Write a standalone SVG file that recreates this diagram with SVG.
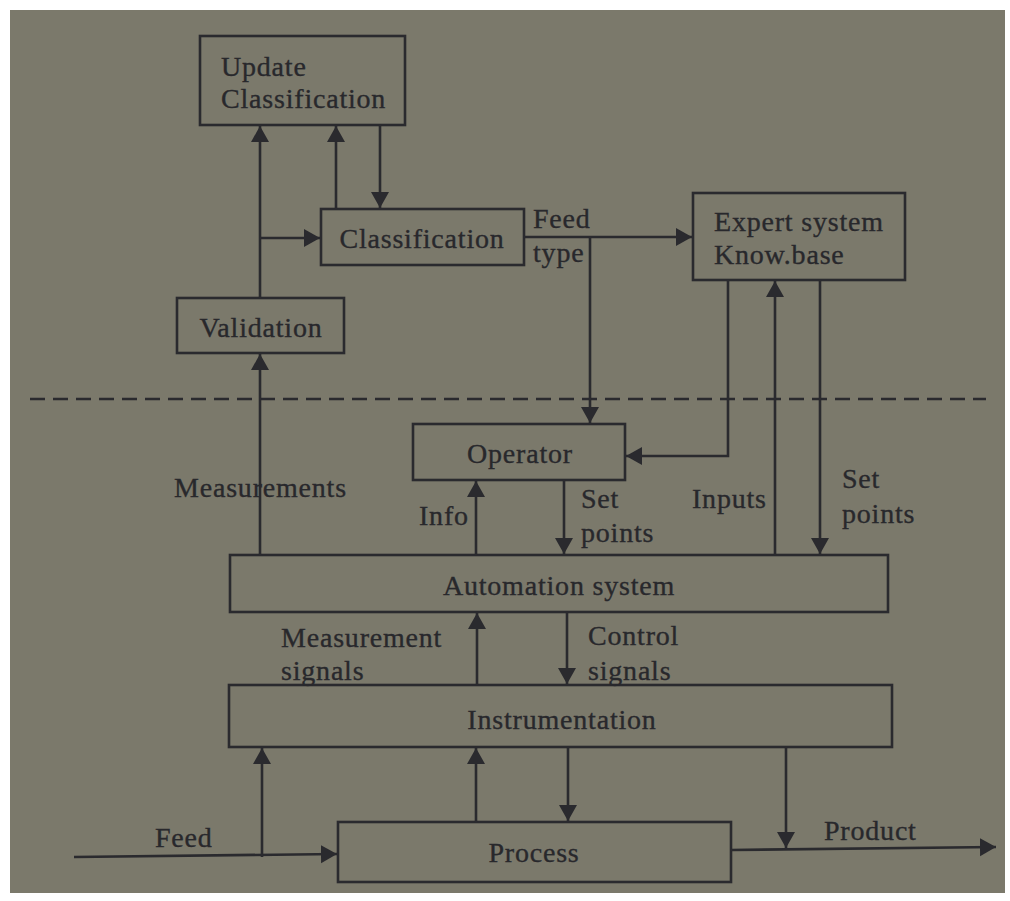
<svg xmlns="http://www.w3.org/2000/svg" width="1010" height="901" viewBox="0 0 1010 901">
<style>
.box{fill:none;stroke:#2a2a2e;stroke-width:2.6}
.ln{fill:none;stroke:#2a2a2e;stroke-width:2.6}
.t{font-family:"Liberation Serif","Times New Roman",serif;font-size:28px;fill:#28282c;stroke:#28282c;stroke-width:0.35;letter-spacing:0.8px}
.c{text-anchor:middle}
</style>
<defs>
<marker id="ah" markerUnits="userSpaceOnUse" markerWidth="18" markerHeight="20" refX="16" refY="9" orient="auto">
<path d="M0,0 L16,9 L0,18 Z" fill="#2a2a2e"/>
</marker>
</defs>
<rect width="1010" height="901" fill="#ffffff"/>
<rect x="10" y="10" width="995" height="883" fill="#7b796b"/>
<line x1="30" y1="399" x2="986" y2="399" stroke="#2a2a2e" stroke-width="2.5" stroke-dasharray="15 8"/>

<g id="update-classification"><rect class="box" x="200" y="36" width="205" height="89"/><text class="t" x="221" y="76">Update</text><text class="t" x="221" y="108">Classification</text></g>
<g id="classification"><rect class="box" x="321" y="209" width="203" height="56"/><text class="t c" x="422" y="248">Classification</text></g>
<g id="validation"><rect class="box" x="177" y="298" width="167" height="55"/><text class="t c" x="261" y="337">Validation</text></g>
<g id="expert-system"><rect class="box" x="693" y="193" width="212" height="87"/><text class="t" x="714" y="231">Expert system</text><text class="t" x="714" y="264">Know.base</text></g>
<g id="operator"><rect class="box" x="413" y="424" width="212" height="56"/><text class="t c" x="520" y="463">Operator</text></g>
<g id="automation-system"><rect class="box" x="230" y="555" width="658" height="57"/><text class="t c" x="559" y="595">Automation system</text></g>
<g id="instrumentation"><rect class="box" x="229" y="685" width="663" height="62"/><text class="t c" x="562" y="729">Instrumentation</text></g>
<g id="process"><rect class="box" x="338" y="822" width="393" height="60"/><text class="t c" x="534" y="862">Process</text></g>

<g id="connectors">
<line class="ln" x1="260" y1="298" x2="260" y2="126" marker-end="url(#ah)"/>
<line class="ln" x1="260" y1="238" x2="320" y2="238" marker-end="url(#ah)"/>
<line class="ln" x1="336" y1="209" x2="336" y2="126" marker-end="url(#ah)"/>
<line class="ln" x1="380" y1="125" x2="380" y2="208" marker-end="url(#ah)"/>
<line class="ln" x1="524" y1="237" x2="692" y2="237" marker-end="url(#ah)"/>
<line class="ln" x1="590" y1="237" x2="590" y2="423" marker-end="url(#ah)"/>
<polyline class="ln" points="728,280 728,456 626,456" marker-end="url(#ah)"/>
<line class="ln" x1="775" y1="555" x2="775" y2="281" marker-end="url(#ah)"/>
<line class="ln" x1="820" y1="280" x2="820" y2="554" marker-end="url(#ah)"/>
<line class="ln" x1="260" y1="555" x2="260" y2="354" marker-end="url(#ah)"/>
<line class="ln" x1="476" y1="555" x2="476" y2="481" marker-end="url(#ah)"/>
<line class="ln" x1="564" y1="480" x2="564" y2="554" marker-end="url(#ah)"/>
<line class="ln" x1="477" y1="685" x2="477" y2="613" marker-end="url(#ah)"/>
<line class="ln" x1="567" y1="612" x2="567" y2="684" marker-end="url(#ah)"/>
<line class="ln" x1="74" y1="857" x2="337" y2="854" marker-end="url(#ah)"/>
<line class="ln" x1="262" y1="857" x2="262" y2="748" marker-end="url(#ah)"/>
<line class="ln" x1="476" y1="822" x2="476" y2="748" marker-end="url(#ah)"/>
<line class="ln" x1="568" y1="747" x2="568" y2="821" marker-end="url(#ah)"/>
<line class="ln" x1="786" y1="747" x2="786" y2="848" marker-end="url(#ah)"/>
<line class="ln" x1="731" y1="850" x2="996" y2="847" marker-end="url(#ah)"/>
</g>

<g id="labels">
<text class="t" x="533" y="228">Feed</text>
<text class="t" x="533" y="262">type</text>
<text class="t" x="174" y="497">Measurements</text>
<text class="t" x="419" y="525">Info</text>
<text class="t" x="581" y="508">Set</text>
<text class="t" x="581" y="542">points</text>
<text class="t" x="692" y="508">Inputs</text>
<text class="t" x="842" y="488">Set</text>
<text class="t" x="842" y="523">points</text>
<text class="t" x="281" y="647">Measurement</text>
<text class="t" x="281" y="680">signals</text>
<text class="t" x="588" y="645">Control</text>
<text class="t" x="588" y="680">signals</text>
<text class="t" x="155" y="847">Feed</text>
<text class="t" x="824" y="840">Product</text>
</g>
</svg>
